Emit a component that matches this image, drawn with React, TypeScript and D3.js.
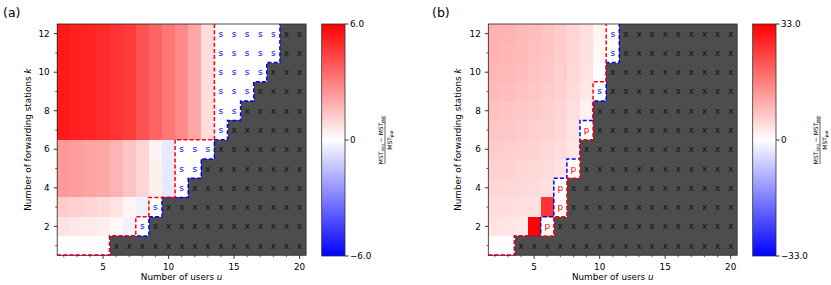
import React from "react";
import * as d3 from "d3";

const users = [2, 3, 4, 5, 6, 7, 8, 9, 10, 11, 12, 13, 14, 15, 16, 17, 18, 19, 20];
const stations = [1, 2, 3, 4, 5, 6, 7, 8, 9, 10, 11, 12];
const xTicks = [5, 10, 15, 20];
const yTicks = [2, 4, 6, 8, 10, 12];

// cell kind per row (k = 1..12), one char per user u = 2..20
// c = value shown, s = only sequential feasible, p = only parallel feasible, x = infeasible
const kindsA = [
  "ccccxxxxxxxxxxxxxxx",
  "ccccccsxxxxxxxxxxxx",
  "cccccccsxxxxxxxxxxx",
  "cccccccccsxxxxxxxxx",
  "cccccccccssxxxxxxxx",
  "cccccccccsssxxxxxxx",
  "ccccccccccccsxxxxxx",
  "ccccccccccccssxxxxx",
  "ccccccccccccsssxxxx",
  "ccccccccccccssssxxx",
  "ccccccccccccsssssxx",
  "ccccccccccccsssssxx",
];
const topRowA = [5.4, 5.25, 5.15, 5.0, 4.8, 4.6, 4.1, 3.65, 3.2, 2.8, 2.1, 0.8];
const valuesA = [
  [0.03, 0.03, 0.03, 0.03],
  [0.65, 0.55, 0.5, 0.38, 0.15, -0.3],
  [1.2, 1.1, 1.0, 0.85, 0.65, 0.25, -0.35],
  [2.4, 2.3, 2.15, 2.05, 1.8, 1.4, 1.0, 0.4, -0.55],
  [2.4, 2.3, 2.15, 2.05, 1.8, 1.4, 1.0, 0.35, -0.55],
  [2.4, 2.3, 2.15, 2.05, 1.8, 1.4, 1.0, 0.3, -0.55],
  topRowA,
  topRowA,
  topRowA,
  topRowA,
  topRowA,
  topRowA,
];

const kindsB = [
  "ccxxxxxxxxxxxxxxxxx",
  "ccccpxxxxxxxxxxxxxx",
  "cccccpxxxxxxxxxxxxx",
  "cccccpxxxxxxxxxxxxx",
  "ccccccpxxxxxxxxxxxx",
  "cccccccxxxxxxxxxxxx",
  "cccccccpxxxxxxxxxxx",
  "ccccccccxxxxxxxxxxx",
  "ccccccccsxxxxxxxxxx",
  "cccccccccxxxxxxxxxx",
  "cccccccccsxxxxxxxxx",
  "cccccccccsxxxxxxxxx",
];
const valuesB = [
  [0.3, 0.3],
  [3.6, 3.4, 3.0, 32.5],
  [4.6, 4.4, 4.2, 3.9, 26.5],
  [5.4, 5.2, 4.9, 4.6, 4.1],
  [6.0, 5.8, 5.5, 5.1, 4.6, 3.9],
  [6.8, 6.5, 6.1, 5.7, 5.2, 4.4, 3.2],
  [7.4, 7.1, 6.7, 6.3, 5.7, 4.9, 3.7],
  [8.1, 7.7, 7.3, 6.8, 6.2, 5.4, 4.3, 1.8],
  [8.8, 8.4, 7.9, 7.4, 6.7, 5.9, 4.7, 3.0],
  [9.4, 9.0, 8.5, 7.9, 7.2, 6.3, 5.1, 3.5, 0.3],
  [10.0, 9.5, 9.0, 8.3, 7.5, 6.6, 5.4, 3.9, 1.2],
  [10.2, 9.7, 9.1, 8.4, 7.6, 6.7, 5.5, 4.1, 1.5],
];

const cbTicksA = ["6.0", "0", "\u22126.0"];
const cbTicksB = ["33.0", "0", "\u221233.0"];

const FONT = "DejaVu Sans, sans-serif";

function Panel(props: any) {
  const { kinds, values, vmax, cbTicks, left, cbLeft, cbLabelX, tag, tagX, yLabelX, gid } = props;
  const W = 248.9;
  const top = 24;
  const H = 231.3;
  const x = d3.scaleLinear().domain([1.5, 20.5]).range([left, left + W]);
  const y = d3.scaleLinear().domain([0.5, 12.5]).range([top + H, top]);
  const color = d3
    .scaleLinear<string>()
    .domain([-vmax, 0, vmax])
    .range(["#0000ff", "#ffffff", "#ff0000"]);

  const cells: any[] = [];
  const marks: any[] = [];
  const parMax: number[] = [];
  const seqMax: number[] = [];
  stations.forEach((k, ki) => {
    let vi = 0;
    let pm = 1;
    let sm = 1;
    users.forEach((u, ui) => {
      const kind = kinds[ki][ui];
      let fill = "#ffffff";
      if (kind === "c") fill = color(values[ki][vi++]);
      else if (kind === "x") fill = "#4d4d4d";
      if (kind === "c" || kind === "p") pm = Math.max(pm, u);
      if (kind === "c" || kind === "s") sm = Math.max(sm, u);
      const x0 = x(u - 0.5);
      const x1 = x(u + 0.5);
      const y0 = y(k + 0.5);
      const y1 = y(k - 0.5);
      cells.push(
        <rect key={`c${k}-${u}`} x={x0} y={y0} width={x1 - x0} height={y1 - y0} fill={fill} shapeRendering="crispEdges" />
      );
      if (kind !== "c") {
        const col = kind === "x" ? "#111" : kind === "s" ? "#0000ff" : "#ff0000";
        marks.push(
          <text key={`m${k}-${u}`} x={(x0 + x1) / 2} y={(y0 + y1) / 2 + 3} textAnchor="middle" fontSize={kind === "x" ? 8.5 : 9} fill={col} fontFamily={FONT}>
            {kind}
          </text>
        );
      }
    });
    parMax.push(pm);
    seqMax.push(sm);
  });

  const frontier = (f: number[]) => {
    const pts: [number, number][] = [[x(1.5), y(0.5)]];
    stations.forEach((k, ki) => {
      pts.push([x(f[ki] + 0.5), y(k - 0.5)]);
      pts.push([x(f[ki] + 0.5), y(k + 0.5)]);
    });
    return d3.line()(pts) as string;
  };

  const minorX = users.filter((u) => !xTicks.includes(u));
  const minorY = stations.filter((k) => !yTicks.includes(k));
  const cbW = 23.3;
  const cbTop = 24;
  const cbH = 232;
  const cbY = d3.scaleLinear().domain([-vmax, vmax]).range([cbTop + cbH, cbTop]);
  const cbVals = [vmax, 0, -vmax];

  return (
    <g>
      <text x={tagX} y={17} fontSize={12.5} fontFamily={FONT} fill="#000">{tag}</text>
      {cells}
      {marks}
      <rect x={left} y={top} width={W} height={H} fill="none" stroke="#222" strokeWidth={0.8} />
      <path d={frontier(seqMax)} fill="none" stroke="#0000ff" strokeWidth={1.5} strokeDasharray="4,2.2" />
      <path d={frontier(parMax)} fill="none" stroke="#ff0000" strokeWidth={1.5} strokeDasharray="4,2.2" />
      {xTicks.map((t) => (
        <g key={`xt${t}`}>
          <line x1={x(t)} x2={x(t)} y1={top + H} y2={top + H + 3.5} stroke="#000" strokeWidth={0.8} />
          <text x={x(t)} y={269.5} textAnchor="middle" fontSize={8.8} fontFamily={FONT}>{t}</text>
        </g>
      ))}
      {minorX.map((t) => (
        <line key={`xm${t}`} x1={x(t)} x2={x(t)} y1={top + H} y2={top + H + 2} stroke="#000" strokeWidth={0.6} />
      ))}
      {yTicks.map((t) => (
        <g key={`yt${t}`}>
          <line x1={left - 3.5} x2={left} y1={y(t)} y2={y(t)} stroke="#000" strokeWidth={0.8} />
          <text x={left - 7.5} y={y(t) + 3.2} textAnchor="end" fontSize={8.8} fontFamily={FONT}>{t}</text>
        </g>
      ))}
      {minorY.map((t) => (
        <line key={`ym${t}`} x1={left - 2} x2={left} y1={y(t)} y2={y(t)} stroke="#000" strokeWidth={0.6} />
      ))}
      <text x={left + W / 2} y={280} textAnchor="middle" fontSize={8.8} fontFamily={FONT}>
        Number of users <tspan fontStyle="italic">u</tspan>
      </text>
      <text transform={`translate(${yLabelX},${top + H / 2}) rotate(-90)`} textAnchor="middle" fontSize={8.8} fontFamily={FONT}>
        Number of forwarding stations <tspan fontStyle="italic">k</tspan>
      </text>
      <defs>
        <linearGradient id={gid} x1="0" y1="0" x2="0" y2="1">
          <stop offset="0" stopColor="#ff0000" />
          <stop offset="0.5" stopColor="#ffffff" />
          <stop offset="1" stopColor="#0000ff" />
        </linearGradient>
      </defs>
      <rect x={cbLeft} y={cbTop} width={cbW} height={cbH} fill={`url(#${gid})`} stroke="#333" strokeWidth={0.8} />
      {cbVals.map((v, i) => (
        <g key={`cb${i}`}>
          <line x1={cbLeft + cbW} x2={cbLeft + cbW + 3.5} y1={cbY(v)} y2={cbY(v)} stroke="#000" strokeWidth={0.8} />
          <text x={cbLeft + cbW + 5} y={cbY(v) + 3.2} fontSize={8.8} fontFamily={FONT}>{cbTicks[i]}</text>
        </g>
      ))}
      <g transform={`translate(${cbLabelX},${cbTop + cbH / 2}) rotate(-90)`} fontFamily={FONT}>
        <text y={-2.2} textAnchor="middle" fontSize={6}>
          MST<tspan fontSize={4.2} dy={1.4}>seq</tspan>
          <tspan dy={-1.4}> {"\u2212"} MST</tspan>
          <tspan fontSize={4.2} dy={1.4}>par</tspan>
        </text>
        <line x1={-24} x2={24} y1={0} y2={0} stroke="#000" strokeWidth={0.6} />
        <text y={6.8} textAnchor="middle" fontSize={6}>
          MST<tspan fontSize={4.2} dy={1.4}>par</tspan>
        </text>
      </g>
    </g>
  );
}

export default function App() {
  return (
    <svg width={831} height={285} style={{ position: "absolute", left: 0, top: 0, background: "#fff" }}>
      <rect x={0} y={0} width={831} height={285} fill="#fff" />
      <Panel
        kinds={kindsA}
        values={valuesA}
        vmax={6}
        cbTicks={cbTicksA}
        left={57.2}
        cbLeft={321.7}
        cbLabelX={385}
        tag="(a)"
        tagX={3}
        yLabelX={31}
        gid="gradA"
      />
      <Panel
        kinds={kindsB}
        values={valuesB}
        vmax={33}
        cbTicks={cbTicksB}
        left={488.3}
        cbLeft={752.7}
        cbLabelX={820}
        tag="(b)"
        tagX={432}
        yLabelX={461}
        gid="gradB"
      />
    </svg>
  );
}
